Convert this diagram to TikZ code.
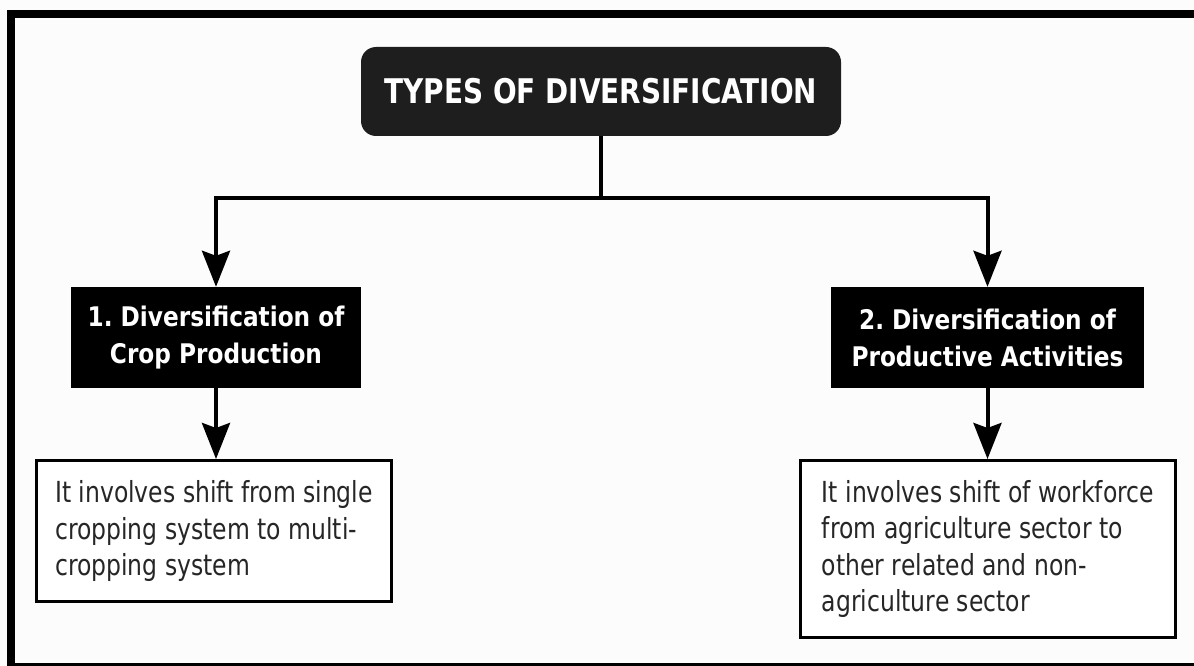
\documentclass[tikz,border=0pt]{standalone}
\usepackage{fontspec}
\usetikzlibrary{arrows.meta}
\frenchspacing
\newfontfamily\regfont[FakeStretch=0.81]{DejaVu Sans}
\newfontfamily\bfnt[FakeStretch=0.86]{DejaVu Sans Bold}
\newfontfamily\ttlfont[FakeStretch=0.82]{DejaVu Sans Bold}
\definecolor{boxblack}{HTML}{1E1E1E}
\definecolor{txtgray}{HTML}{262626}
\tikzset{
  titlebox/.style={rectangle, rounded corners=15pt, fill=boxblack, text=white,
    minimum width=480pt, minimum height=89pt, inner sep=0pt,
    font=\ttlfont\fontsize{34}{40}\selectfont},
  typebox/.style={rectangle, fill=black, text=white, inner sep=0pt, align=center,
    minimum height=101pt, font=\bfnt\fontsize{27}{37}\selectfont},
  descbox/.style={rectangle, draw=black, line width=3pt, fill=white, text=txtgray,
    inner sep=0pt, align=left, font=\regfont\fontsize{29}{36.5}\selectfont},
  conn/.style={line width=4pt, draw=black},
  arr/.style={conn, -{Stealth[length=36pt, width=28pt, inset=5pt]}}
}
\begin{document}
\begin{tikzpicture}[x=1pt, y=-1pt]
\useasboundingbox (0,0) rectangle (1194,666);
\fill[white!99!black] (0,0) rectangle (1194,666);
% frame
\fill[black] (7,10) rectangle (1194,18);
\fill[black] (7,10) rectangle (15,666);
\fill[black] (7,663) rectangle (1194,666);
% nodes
\node[titlebox] (title) at (601,91.5) {TYPES OF DIVERSIFICATION};
\node[typebox, minimum width=290pt] (b1) at (216,337.5) {1. Diversification of\\Crop Production};
\node[typebox, minimum width=313pt] (b2) at (987.5,337.5) {2. Diversification of\\Productive Activities};
\node[descbox, minimum width=355pt, minimum height=141pt] (t1) at (214,531)
  {It involves shift from single\\cropping system to multi-\\cropping system};
\node[descbox, minimum width=375pt, minimum height=177pt] (t2) at (988,549)
  {It involves shift of workforce\\from agriculture sector to\\other related and non-\\agriculture sector};
% connectors
\coordinate (j) at (0,197.5);
\draw[conn] (title.south) -- (title.south |- j) coordinate (jj);
\draw[arr] (jj) -| (b1.north);
\draw[arr] (jj) -| (b2.north);
\draw[arr] (b1.south) -- (b1.south |- t1.north);
\draw[arr] (b2.south) -- (b2.south |- t2.north);
\end{tikzpicture}
\end{document}
